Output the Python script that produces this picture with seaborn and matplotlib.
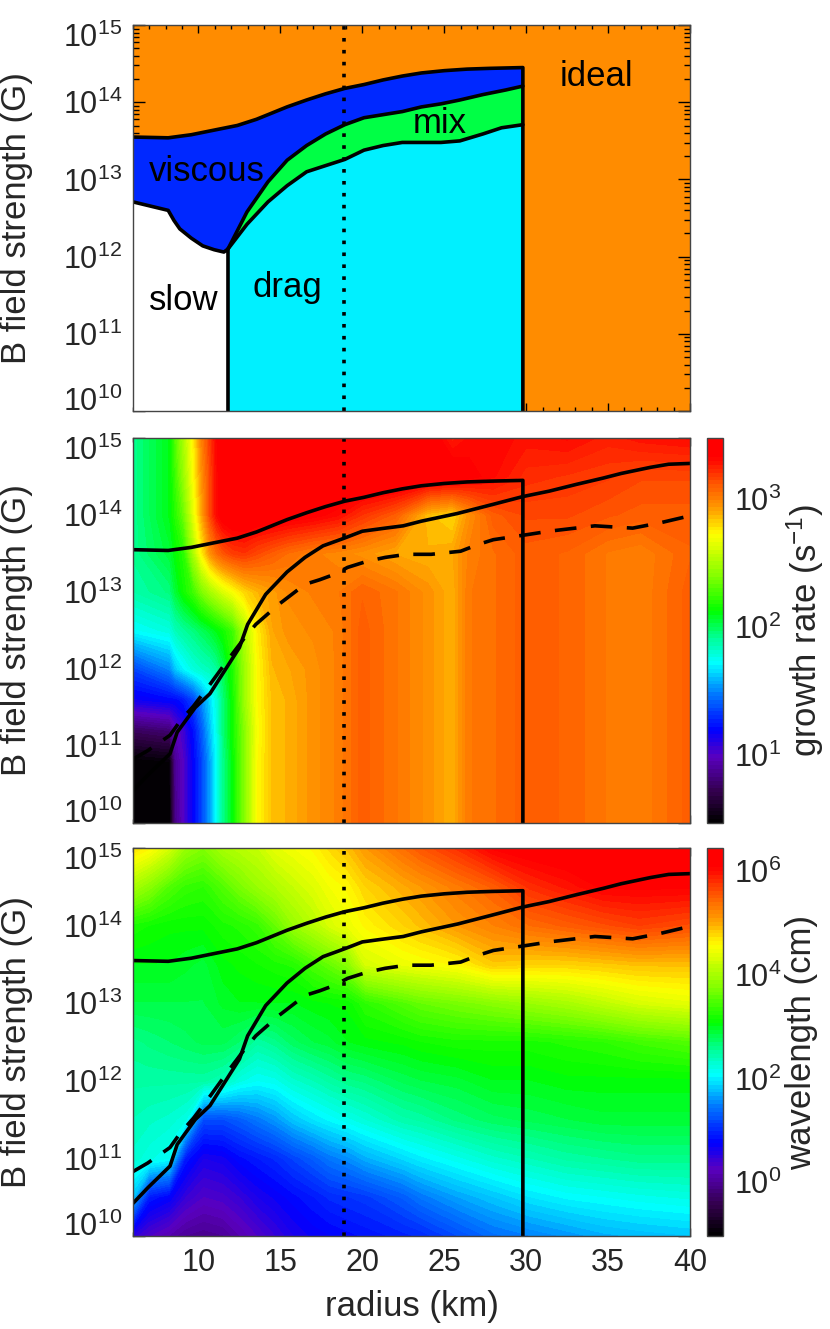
import numpy as np
import matplotlib
matplotlib.use('Agg')
import matplotlib.pyplot as plt
import seaborn as sns
from matplotlib.colors import LinearSegmentedColormap
from matplotlib.ticker import FixedLocator, FuncFormatter, MultipleLocator
from matplotlib.transforms import ScaledTranslation

sns.set_style('ticks')
plt.rcParams['font.family'] = ['Liberation Sans', 'DejaVu Sans']
plt.rcParams['mathtext.default'] = 'regular'
plt.rcParams['axes.edgecolor'] = '#444444'
plt.rcParams['axes.linewidth'] = 1.0

# ---------------- data (radius in km, field as log10 B in G) ----------------
# panel 1 region boundaries
visc_top_r = [6.0, 8.15, 9.56, 10.96, 12.37, 13.54, 14.24, 15.4, 16.6, 17.76, 18.93,
              20.1, 21.27, 22.44, 23.6, 25.0, 26.4, 27.8, 29.8]
visc_top_b = [13.55, 13.54, 13.58, 13.64, 13.70, 13.78, 13.84, 13.94, 14.03, 14.11, 14.18,
              14.23, 14.29, 14.34, 14.38, 14.41, 14.43, 14.44, 14.45]
mix_top_r = [11.8, 12.96, 14.24, 15.41, 16.6, 17.76, 18.93, 20.1, 21.27, 22.44, 23.6,
             24.8, 25.95, 27.36, 28.76, 29.8]
mix_top_b = [12.1, 12.58, 12.97, 13.25, 13.44, 13.59, 13.71, 13.8, 13.84, 13.88, 13.94,
             13.98, 14.03, 14.10, 14.16, 14.21]
mix_bot_r = [11.8, 12.96, 14.24, 15.41, 16.6, 17.76, 18.93, 20.1, 21.27, 22.44, 23.6,
             24.8, 25.95, 27.36, 28.5, 29.8]
mix_bot_b = [12.1, 12.42, 12.71, 12.92, 13.1, 13.18, 13.26, 13.38, 13.44, 13.48, 13.48,
             13.48, 13.5, 13.59, 13.67, 13.71]
slow_r = [6.0, 8.15, 8.5, 8.86, 9.56, 10.26, 10.96, 11.55, 11.8]
slow_b = [12.71, 12.6, 12.47, 12.36, 12.24, 12.14, 12.09, 12.06, 12.1]
b_floor = 10.0
r_marker = 18.9

region_names = ['ideal', 'mix', 'viscous', 'slow', 'drag']
region_r = [34.3, 24.7, 10.5, 9.1, 15.4]
region_b = [14.33, 13.72, 13.1, 11.43, 11.6]

# panels 2 and 3 curves
mid_r = [6.0, 6.9, 8.26, 8.7, 9.8, 10.7, 11.6, 12.5, 13.0, 14.1, 15.4, 16.5, 17.6, 18.9,
         20.0, 21.4, 22.5, 23.6, 25.8, 28.0, 29.8, 31.4, 33.1, 34.7, 35.8, 37.6, 38.7, 40.0]
mid_b = [10.42, 10.62, 10.9, 11.18, 11.5, 11.68, 11.98, 12.28, 12.58, 12.97, 13.26, 13.45,
         13.6, 13.7, 13.79, 13.83, 13.86, 13.92, 14.02, 14.14, 14.24, 14.31, 14.4, 14.48,
         14.54, 14.62, 14.66, 14.67]
dash_r = [6.0, 6.9, 8.26, 8.9, 9.7, 10.7, 11.9, 12.9, 13.5, 14.9, 16.5, 17.4, 18.3, 19.1,
          20.3, 21.4, 22.7, 24.2, 26.0, 27.1, 28.0, 30.2, 31.4, 34.2, 36.5, 38.2, 40.0]
dash_b = [10.83, 10.94, 11.14, 11.33, 11.52, 11.8, 12.15, 12.43, 12.58, 12.84, 13.1, 13.16,
          13.23, 13.32, 13.4, 13.45, 13.49, 13.49, 13.53, 13.62, 13.68, 13.75, 13.79, 13.86,
          13.83, 13.9, 13.99]

# growth rate map, log10(s^-1)
gr_radius = [6.0, 8.25, 8.6, 9.1, 9.7, 10.2, 10.7, 11.1, 11.5, 12.1, 12.8, 13.6, 14.5, 15.5,
             17.0, 18.5, 20.0, 22.0, 24.0, 25.5, 26.5, 28.0, 30.0, 32.5, 35.0, 37.0, 40.0]
gr_logb = [10.0, 10.8, 11.2, 11.6, 12.0, 12.5, 13.0, 13.5, 14.0, 14.5, 15.0]
gr_bands = [2.85, 2.88, 2.95, 3.0, 3.1, 3.03, 2.95, 2.88, 3.02, 3.05, 3.1, 3.08, 3.02, 3.0, 3.1]
gr_table = [
    [0.47, 0.47, 0.85, 1.0, 1.19, 1.35, 1.55, 1.72, 1.92, 2.12, 2.4, 2.72] + gr_bands,
    [0.47, 0.5, 0.88, 1.0, 1.19, 1.35, 1.55, 1.72, 1.92, 2.12, 2.4, 2.72] + gr_bands,
    [0.75, 0.8, 0.95, 1.05, 1.22, 1.4, 1.6, 1.75, 1.95, 2.15, 2.4, 2.7] + gr_bands,
    [1.15, 1.2, 1.2, 1.25, 1.35, 1.5, 1.65, 1.78, 1.95, 2.15, 2.45, 2.72] + gr_bands,
    [1.35, 1.5, 1.62, 1.7, 1.78, 1.82, 1.85, 1.9, 2.0, 2.18, 2.45, 2.72,
     2.87, 2.9, 2.95, 3.0, 3.1, 3.03, 2.95, 2.88, 3.02, 3.05, 3.1, 3.08, 3.02, 3.0, 3.1],
    [1.72, 1.78, 1.85, 1.9, 1.95, 2.0, 2.05, 2.1, 2.15, 2.25, 2.5, 2.75,
     2.9, 2.95, 2.97, 3.0, 3.1, 3.03, 2.95, 2.88, 3.02, 3.05, 3.1, 3.08, 3.02, 3.0, 3.1],
    [1.88, 1.95, 2.05, 2.15, 2.25, 2.38, 2.48, 2.55, 2.62, 2.7, 2.8, 2.87,
     2.92, 2.97, 3.0, 3.02, 3.08, 3.03, 2.95, 2.88, 3.02, 3.05, 3.1, 3.08, 3.02, 3.0, 3.1],
    [1.92, 2.05, 2.12, 2.2, 2.5, 2.75, 2.95, 3.05, 3.12, 3.18, 3.2, 3.15,
     3.1, 3.05, 3.0, 2.98, 2.95, 2.9, 2.88, 2.9, 3.0, 3.05, 3.1, 3.08, 3.02, 3.0, 3.08],
    [1.92, 2.1, 2.2, 2.35, 2.65, 2.9, 3.15, 3.3, 3.38, 3.42, 3.42, 3.4,
     3.4, 3.38, 3.35, 3.3, 3.2, 3.1, 2.85, 2.8, 2.95, 3.1, 3.15, 3.15, 3.12, 3.1, 3.1],
    [1.92, 2.1, 2.25, 2.45, 2.72, 2.95, 3.15, 3.3, 3.4, 3.45, 3.45, 3.45,
     3.45, 3.45, 3.45, 3.45, 3.45, 3.45, 3.42, 3.4, 3.35, 3.3, 3.22, 3.2, 3.18, 3.15, 3.15],
    [1.92, 2.1, 2.3, 2.5, 2.75, 3.0, 3.18, 3.32, 3.42, 3.45, 3.45, 3.45,
     3.45, 3.45, 3.45, 3.45, 3.45, 3.45, 3.4, 3.25, 3.3, 3.32, 3.28, 3.3, 3.25, 3.28, 3.3],
]
gr_lo, gr_hi = 0.47, 3.475

# wavelength map, log10(cm)
wl_radius = [6.0, 7.0, 8.2, 9.2, 10.3, 11.5, 12.5, 13.6, 14.7, 15.8, 17.0, 18.0, 19.1, 20.2,
             22.5, 23.6, 25.8, 28.0, 30.2, 32.5, 34.7, 36.9, 40.0]
wl_logb = [10.0, 10.5, 11.0, 11.5, 12.0, 12.5, 13.0, 13.5, 14.0, 14.5, 15.0]
wl_table = [
    [0.5, 0.3, 0.15, 0.0, -0.05, 0.0, 0.15, 0.3, 0.45, 0.6, 0.7, 0.75, 0.8, 0.85, 0.95, 1.0, 1.2, 1.4, 1.5, 1.6, 1.7, 1.75, 1.8],
    [1.8, 0.9, 0.75, 0.45, 0.3, 0.35, 0.45, 0.6, 0.7, 0.8, 0.9, 1.0, 1.05, 1.1, 1.3, 1.45, 1.65, 1.8, 1.95, 2.05, 2.1, 2.15, 2.2],
    [2.3, 2.2, 2.1, 0.9, 0.6, 0.65, 0.8, 0.9, 1.0, 1.15, 1.3, 1.45, 1.55, 1.7, 1.9, 2.0, 2.15, 2.3, 2.4, 2.5, 2.55, 2.6, 2.6],
    [2.4, 2.35, 2.3, 2.2, 1.2, 1.2, 1.3, 1.45, 1.6, 1.8, 1.95, 2.05, 2.15, 2.25, 2.45, 2.5, 2.65, 2.75, 2.8, 2.85, 2.9, 2.9, 2.9],
    [2.5, 2.5, 2.5, 2.5, 2.5, 2.4, 2.2, 2.1, 2.15, 2.3, 2.4, 2.5, 2.6, 2.65, 2.8, 2.85, 2.9, 3.0, 3.0, 3.05, 3.05, 3.05, 3.05],
    [2.6, 2.65, 2.7, 2.75, 2.8, 2.8, 2.7, 2.5, 2.6, 2.75, 2.85, 2.9, 3.0, 3.05, 3.1, 3.15, 3.2, 3.2, 3.2, 3.25, 3.3, 3.4, 3.5],
    [2.85, 2.85, 2.85, 2.85, 2.85, 2.95, 3.0, 3.0, 3.0, 3.0, 3.05, 3.08, 3.1, 3.3, 3.5, 3.6, 3.7, 3.8, 3.9, 4.0, 4.15, 4.3, 4.4],
    [3.0, 3.0, 3.0, 2.95, 2.9, 3.05, 3.1, 3.15, 3.2, 3.25, 3.45, 3.6, 3.8, 4.3, 4.45, 4.5, 4.6, 4.85, 4.8, 4.8, 4.85, 4.9, 4.9],
    [3.2, 3.15, 3.1, 3.1, 3.1, 3.2, 3.25, 3.35, 3.6, 3.9, 4.1, 4.3, 4.45, 4.6, 4.8, 4.9, 5.1, 5.25, 5.4, 5.5, 5.6, 5.7, 5.6],
    [4.0, 3.8, 3.5, 3.35, 3.3, 3.5, 3.7, 3.9, 4.05, 4.2, 4.35, 4.5, 4.6, 4.8, 5.0, 5.1, 5.3, 5.5, 5.8, 5.95, 6.1, 6.1, 6.1],
    [4.75, 4.6, 4.3, 3.9, 3.75, 4.0, 4.1, 4.2, 4.4, 4.5, 4.6, 4.75, 4.9, 5.1, 5.4, 5.55, 5.8, 6.1, 6.2, 6.25, 6.3, 6.3, 6.3],
]
wl_lo, wl_hi = -1.04, 6.45

# ---------------- style ----------------
ORANGE = '#ff8c00'
BLUE = '#0028ff'
GREEN = '#00ff45'
CYAN = '#00f0ff'

cmap_pos = [0.0, 0.08, 0.17, 0.24, 0.33, 0.415, 0.48, 0.55, 0.64, 0.75, 0.82, 0.89, 0.95, 1.0]
cmap_col = ['#000000', '#33004d', '#5900bf', '#0000ff', '#0073ff', '#00ffff', '#00ff99',
            '#00ff00', '#80ff00', '#ffff00', '#ff9900', '#ff4d00', '#ff0000', '#ff0000']
rainbow = LinearSegmentedColormap.from_list('idl_rainbow', list(zip(cmap_pos, cmap_col)))

TICK_FS = 22
LABEL_FS = 25
LW = 2.6


def decade_label(v, pos):
    return r'$10^{%d}$' % int(round(v))


def style_axis(ax, fig, show_x):
    ax.set_xlim(6, 40)
    ax.set_ylim(10, 15)
    ax.xaxis.set_major_locator(MultipleLocator(5))
    ax.xaxis.set_minor_locator(MultipleLocator(1))
    ax.yaxis.set_major_locator(FixedLocator(range(10, 16)))
    ax.yaxis.set_minor_locator(FixedLocator([d + np.log10(k) for d in range(10, 15) for k in range(2, 10)]))
    ax.yaxis.set_major_formatter(FuncFormatter(decade_label))
    ax.tick_params(which='both', direction='in', top=True, right=True, color='k', width=1)
    ax.tick_params(axis='y', which='major', length=8.6, labelsize=TICK_FS, pad=8)
    ax.tick_params(axis='y', which='minor', length=4.3)
    ax.tick_params(axis='x', which='major', length=6, labelsize=TICK_FS, pad=9)
    ax.tick_params(axis='x', which='minor', length=3)
    if not show_x:
        ax.tick_params(axis='x', labelbottom=False)
    ax.set_ylabel('B field strength (G)', fontsize=LABEL_FS)
    ax.yaxis.set_label_coords(-0.18, 0.5)
    # pull the end labels inwards like the original
    ticks = ax.yaxis.get_major_ticks()
    lab = ticks[0].label1
    lab.set_transform(lab.get_transform() + ScaledTranslation(0, 9 / 72, fig.dpi_scale_trans))
    lab = ticks[-1].label1
    lab.set_transform(lab.get_transform() + ScaledTranslation(0, -7 / 72, fig.dpi_scale_trans))
    ax.axvline(r_marker, color='k', lw=2.6, linestyle=(0, (1, 2.3)))


def draw_line(ax, xs, ys, **kw):
    sns.lineplot(x=np.asarray(xs), y=np.asarray(ys), ax=ax, sort=False, estimator=None,
                 color='k', lw=LW, legend=False, **kw)


def style_cbar(cb, ticks, label):
    cb.set_ticks(ticks)
    cb.ax.yaxis.set_major_formatter(FuncFormatter(decade_label))
    cb.ax.minorticks_off()
    cb.ax.tick_params(direction='in', length=5, width=1, color='k', labelsize=TICK_FS, pad=8)
    cb.outline.set_edgecolor('#444444')
    cb.set_label(label, fontsize=LABEL_FS)
    cb.ax.yaxis.set_label_coords(4.85, 0.5)


fig = plt.figure(figsize=(8.3, 13.29), dpi=100)
L, W = 0.1602, 0.6711
ax1 = fig.add_axes([L, 0.6907, W, 0.2904])
ax2 = fig.add_axes([L, 0.3807, W, 0.2897])
ax3 = fig.add_axes([L, 0.0700, W, 0.2919])
cax2 = fig.add_axes([0.8518, 0.3807, 0.0193, 0.2897])
cax3 = fig.add_axes([0.8518, 0.0700, 0.0193, 0.2919])

# ---------------- panel 1: regimes ----------------
ax1.set_facecolor(ORANGE)
ax1.fill(np.r_[visc_top_r, mix_top_r[::-1], slow_r[::-1]],
         np.r_[visc_top_b, mix_top_b[::-1], slow_b[::-1]], color=BLUE, lw=0)
ax1.fill(np.r_[mix_top_r, mix_bot_r[::-1]], np.r_[mix_top_b, mix_bot_b[::-1]], color=GREEN, lw=0)
ax1.fill(np.r_[mix_bot_r, mix_bot_r[-1], mix_bot_r[0]], np.r_[mix_bot_b, b_floor, b_floor],
         color=CYAN, lw=0)
ax1.fill(np.r_[slow_r, slow_r[-1], slow_r[0]], np.r_[slow_b, b_floor, b_floor], color='white', lw=0)
draw_line(ax1, np.r_[visc_top_r, visc_top_r[-1]], np.r_[visc_top_b, b_floor])
draw_line(ax1, mix_top_r, mix_top_b)
draw_line(ax1, mix_bot_r, mix_bot_b)
draw_line(ax1, np.r_[slow_r, slow_r[-1]], np.r_[slow_b, b_floor])
for name, r, b in zip(region_names, region_r, region_b):
    ax1.text(r, b, name, fontsize=LABEL_FS, ha='center', va='center', color='k')
style_axis(ax1, fig, False)

# ---------------- panel 2: growth rate ----------------
cs2 = ax2.contourf(gr_radius, gr_logb, np.array(gr_table), levels=np.linspace(gr_lo, gr_hi, 101),
                   cmap=rainbow, antialiased=False)
draw_line(ax2, np.r_[visc_top_r, visc_top_r[-1]], np.r_[visc_top_b, b_floor])
draw_line(ax2, mid_r, mid_b)
draw_line(ax2, dash_r, dash_b, linestyle=(0, (6, 4)))
style_axis(ax2, fig, False)
cb2 = fig.colorbar(cs2, cax=cax2)
style_cbar(cb2, [1, 2, 3], 'growth rate (s$^{-1}$)')

# ---------------- panel 3: wavelength ----------------
cs3 = ax3.contourf(wl_radius, wl_logb, np.array(wl_table), levels=np.linspace(wl_lo, wl_hi, 101),
                   cmap=rainbow, antialiased=False)
draw_line(ax3, np.r_[visc_top_r, visc_top_r[-1]], np.r_[visc_top_b, b_floor])
draw_line(ax3, mid_r, mid_b)
draw_line(ax3, dash_r, dash_b, linestyle=(0, (6, 4)))
style_axis(ax3, fig, True)
ax3.set_xlabel('radius (km)', fontsize=LABEL_FS)
ax3.xaxis.set_label_coords(0.5, -0.14)
cb3 = fig.colorbar(cs3, cax=cax3)
style_cbar(cb3, [0, 2, 4, 6], 'wavelength (cm)')

fig.savefig('out.png', dpi=100)
